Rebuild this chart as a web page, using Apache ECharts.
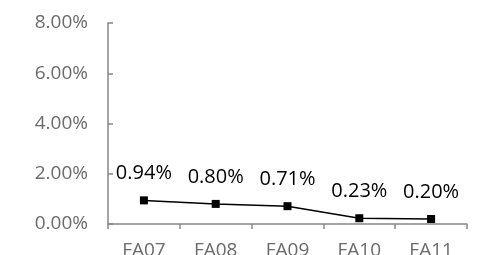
<!DOCTYPE html>
<html>
<head>
<meta charset="utf-8">
<script src="https://cdn.jsdelivr.net/npm/echarts@6/dist/echarts.min.js"></script>
<style>
  html, body { margin: 0; padding: 0; background: #fff; }
  #chart { width: 484px; height: 255px; }
</style>
</head>
<body>
<div id="chart"></div>
<script>
const categories = ['FA07', 'FA08', 'FA09', 'FA10', 'FA11'];
const rates = [0.0094, 0.0080, 0.0071, 0.0023, 0.0020];
const yTicks = { min: 0, max: 0.08, interval: 0.02 };

const fontFamily = 'Open Sans';
const myChart = echarts.init(document.getElementById('chart'));

const option = {
  animation: false,
  backgroundColor: '#ffffff',
  grid: {
    left: 108,
    right: 17,
    top: 23,
    bottom: 31,
    outerBoundsMode: 'none',
  },
  xAxis: {
    type: 'category',
    data: categories,
    boundaryGap: true,
    axisLine: { lineStyle: { color: '#868686', width: 1.5 } },
    // ticks hang below the axis
    axisTick: { show: true, length: 5, lineStyle: { color: '#868686', width: 1.5 } },
    axisLabel: {
      color: '#6b6b6b',
      fontSize: 19,
      fontFamily: fontFamily,
      margin: 17,
    },
    splitLine: { show: false },
  },
  yAxis: {
    type: 'value',
    min: yTicks.min,
    max: yTicks.max,
    interval: yTicks.interval,
    axisLine: { show: true, lineStyle: { color: '#868686', width: 1.5 } },
    // ticks point into the plot
    axisTick: { show: true, inside: true, length: 5, lineStyle: { color: '#868686', width: 1.5 } },
    axisLabel: {
      color: '#6b6b6b',
      fontSize: 19,
      fontFamily: fontFamily,
      margin: 20,
      formatter: v => (v * 100).toFixed(2) + '%',
    },
    splitLine: { show: false },
  },
  series: [
    {
      type: 'line',
      data: rates,
      symbol: 'rect',
      symbolSize: 8,
      itemStyle: { color: '#000000' },
      lineStyle: { color: '#000000', width: 1.5 },
      label: {
        show: true,
        position: 'top',
        distance: 13,
        color: '#000000',
        fontSize: 20,
        fontFamily: fontFamily,
        formatter: p => (p.value * 100).toFixed(2) + '%',
      },
    },
  ],
};

myChart.setOption(option);
</script>
</body>
</html>
